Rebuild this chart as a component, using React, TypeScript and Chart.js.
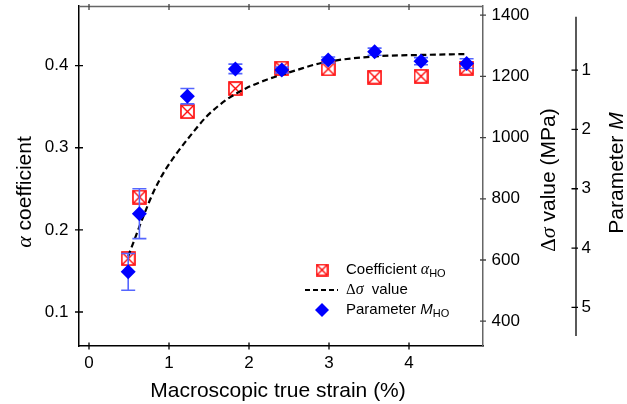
import React, { useEffect, useRef } from "react";
import { Chart, registerables } from "chart.js";

Chart.register(...registerables);

// ---- data ----
const strain = [0.49, 0.63, 1.23, 1.83, 2.41, 2.99, 3.57, 4.15, 4.72];
const alphaHO = [0.165, 0.240, 0.344, 0.372, 0.397, 0.396, 0.386, 0.387, 0.397];
const paramM = [4.40, 3.42, 1.44, 0.98, 1.0, 0.83, 0.69, 0.85, 0.89];
const paramMErr = [0.31, 0.42, 0.13, 0.08, 0.05, 0.05, 0.06, 0.06, 0.08];
const curveStrain = [0.49, 0.68, 0.80, 0.93, 1.10, 1.26, 1.47, 1.72, 1.97, 2.22, 2.60, 2.89, 3.55, 4.14, 4.72];
const curveDeltaSigma = [612, 743, 819, 884, 950, 1004, 1069, 1124, 1162, 1189, 1221, 1243, 1265, 1270, 1273];

const xTicks = [0, 1, 2, 3, 4];
const alphaTicks = [0.1, 0.2, 0.3, 0.4];
const sigmaTicks = [400, 600, 800, 1000, 1200, 1400];
const mTicks = [1, 2, 3, 4, 5];
const mAxisLineSpan = [0.1, 5.48];

const SANS = '"Liberation Sans", Arial, Helvetica, sans-serif';
const SERIF = '"Liberation Serif", "Times New Roman", serif';

type Seg = { t: string; font: string; dy?: number };

function drawRich(ctx: CanvasRenderingContext2D, segs: Seg[], x: number, y: number, align: "center" | "left", rot = 0) {
  ctx.save();
  ctx.translate(x, y);
  ctx.rotate(rot);
  ctx.textBaseline = "middle";
  ctx.textAlign = "left";
  ctx.fillStyle = "#000";
  let total = 0;
  for (const s of segs) {
    ctx.font = s.font;
    total += ctx.measureText(s.t).width;
  }
  let cx = align === "center" ? -total / 2 : 0;
  for (const s of segs) {
    ctx.font = s.font;
    ctx.fillText(s.t, cx, s.dy || 0);
    cx += ctx.measureText(s.t).width;
  }
  ctx.restore();
}

function makeCrossSquare(size: number) {
  const c = document.createElement("canvas");
  c.width = size;
  c.height = size;
  const g = c.getContext("2d")!;
  g.strokeStyle = "#ff0000";
  g.lineWidth = 1.6;
  g.strokeRect(1, 1, size - 2, size - 2);
  g.lineWidth = 1.4;
  g.beginPath();
  g.moveTo(2, 2);
  g.lineTo(size - 2, size - 2);
  g.moveTo(size - 2, 2);
  g.lineTo(2, size - 2);
  g.stroke();
  return c;
}

function drawTicks(ctx: CanvasRenderingContext2D, scale: any, values: number[], horizontal: boolean, pos: number, a: number, b: number, color: string) {
  ctx.save();
  ctx.strokeStyle = color;
  ctx.lineWidth = 1.3;
  ctx.beginPath();
  for (const v of values) {
    const p = scale.getPixelForValue(v);
    if (horizontal) {
      ctx.moveTo(p, pos + a);
      ctx.lineTo(p, pos + b);
    } else {
      ctx.moveTo(pos + a, p);
      ctx.lineTo(pos + b, p);
    }
  }
  ctx.stroke();
  ctx.restore();
}

const decorPlugin = {
  id: "decor",
  beforeDatasetDraw(chart: any, args: any) {
    if (args.index !== 0) return;
    const ctx: CanvasRenderingContext2D = chart.ctx;
    const xs = chart.scales.x;
    const ym = chart.scales.yM;
    ctx.save();
    ctx.strokeStyle = "#5566ff";
    ctx.lineWidth = 1.6;
    ctx.beginPath();
    strain.forEach((s, i) => {
      const px = xs.getPixelForValue(s);
      const t = ym.getPixelForValue(paramM[i] - paramMErr[i]);
      const b = ym.getPixelForValue(paramM[i] + paramMErr[i]);
      ctx.moveTo(px, t);
      ctx.lineTo(px, b);
      ctx.moveTo(px - 7, t);
      ctx.lineTo(px + 7, t);
      ctx.moveTo(px - 7, b);
      ctx.lineTo(px + 7, b);
    });
    ctx.stroke();
    ctx.restore();
  },
  afterDraw(chart: any) {
    const ctx: CanvasRenderingContext2D = chart.ctx;
    const { left, right, top, bottom } = chart.chartArea;
    const xs = chart.scales.x;
    const ya = chart.scales.y;
    const yr = chart.scales.yR;
    const ym = chart.scales.yM;

    // top border
    ctx.save();
    ctx.strokeStyle = "#666";
    ctx.lineWidth = 1.3;
    ctx.beginPath();
    ctx.moveTo(left, top + 0.5);
    ctx.lineTo(right, top + 0.5);
    ctx.stroke();
    ctx.restore();

    // M axis line
    ctx.save();
    ctx.strokeStyle = "#000";
    ctx.lineWidth = 1.3;
    ctx.beginPath();
    ctx.moveTo(ym.left, ym.getPixelForValue(mAxisLineSpan[0]));
    ctx.lineTo(ym.left, ym.getPixelForValue(mAxisLineSpan[1]));
    ctx.stroke();
    ctx.restore();

    drawTicks(ctx, xs, xTicks, true, bottom, -3.5, 3.5, "#000");
    drawTicks(ctx, xs, xTicks, true, top, -2, 4, "#444");
    drawTicks(ctx, ya, alphaTicks, false, left, -4, 4, "#000");
    drawTicks(ctx, yr, sigmaTicks, false, right, -3, 3, "#444");
    drawTicks(ctx, ym, mTicks, false, ym.left, -4.5, 2, "#000");

    // axis titles
    const T = 21;
    drawRich(ctx, [{ t: "Macroscopic true strain (%)", font: `${T}px ${SANS}` }], (left + right) / 2 - 3, 391, "center");
    drawRich(
      ctx,
      [
        { t: "α", font: `italic ${T + 1}px ${SERIF}` },
        { t: " coefficient", font: `${T}px ${SANS}` },
      ],
      25,
      192,
      "center",
      -Math.PI / 2
    );
    drawRich(
      ctx,
      [
        { t: "Δ", font: `${T}px ${SERIF}` },
        { t: "σ", font: `italic ${T + 1}px ${SERIF}` },
        { t: " value (MPa)", font: `${T}px ${SANS}` },
      ],
      549,
      180,
      "center",
      -Math.PI / 2
    );
    drawRich(
      ctx,
      [
        { t: "Parameter ", font: `${T}px ${SANS}` },
        { t: "M", font: `italic ${T}px ${SANS}` },
      ],
      617,
      173,
      "center",
      -Math.PI / 2
    );

    // legend
    const L = 15;
    const lx = 322;
    const tx = 346;
    const r1 = 270, r2 = 290, r3 = 310;
    const legSq = makeCrossSquare(13);
    ctx.drawImage(legSq, lx - 6.5, r1 - 6.5);
    drawRich(
      ctx,
      [
        { t: "Coefficient ", font: `${L}px ${SANS}` },
        { t: "α", font: `italic ${L + 1}px ${SERIF}` },
        { t: "HO", font: `${L - 4}px ${SANS}`, dy: 4 },
      ],
      tx,
      r1,
      "left"
    );
    ctx.save();
    ctx.strokeStyle = "#000";
    ctx.lineWidth = 2;
    ctx.setLineDash([5, 3]);
    ctx.beginPath();
    ctx.moveTo(305, r2);
    ctx.lineTo(338, r2);
    ctx.stroke();
    ctx.restore();
    drawRich(
      ctx,
      [
        { t: "Δ", font: `${L}px ${SERIF}` },
        { t: "σ", font: `italic ${L + 1}px ${SERIF}` },
        { t: "  value", font: `${L}px ${SANS}` },
      ],
      tx,
      r2,
      "left"
    );
    ctx.save();
    ctx.fillStyle = "#0000ff";
    ctx.beginPath();
    ctx.moveTo(lx, r3 - 7);
    ctx.lineTo(lx + 7, r3);
    ctx.lineTo(lx, r3 + 7);
    ctx.lineTo(lx - 7, r3);
    ctx.closePath();
    ctx.fill();
    ctx.restore();
    drawRich(
      ctx,
      [
        { t: "Parameter ", font: `${L}px ${SANS}` },
        { t: "M", font: `italic ${L}px ${SANS}` },
        { t: "HO", font: `${L - 4}px ${SANS}`, dy: 4 },
      ],
      tx,
      r3,
      "left"
    );
  },
};

export default function App() {
  const ref = useRef<HTMLCanvasElement | null>(null);

  useEffect(() => {
    if (!ref.current) return;
    const redMarker = makeCrossSquare(15);
    const tickFont = { family: SANS, size: 17 };
    const noPad = (s: any) => {
      s.paddingTop = 0;
      s.paddingBottom = 0;
      s.paddingLeft = 0;
      s.paddingRight = 0;
    };
    const chart = new Chart(ref.current, {
      type: "scatter",
      data: {
        datasets: [
          {
            label: "Parameter M_HO",
            data: strain.map((s, i) => ({ x: s, y: paramM[i] })),
            yAxisID: "yM",
            pointStyle: "rectRot",
            pointRadius: 7.5,
            backgroundColor: "#0000ff",
            borderColor: "#0000ff",
            borderWidth: 0,
            showLine: false,
          },
          {
            label: "Δσ value",
            data: curveStrain.map((s, i) => ({ x: s, y: curveDeltaSigma[i] })),
            yAxisID: "yR",
            showLine: true,
            borderColor: "#000",
            borderWidth: 2.2,
            borderDash: [6, 3.5],
            pointRadius: 0,
            cubicInterpolationMode: "monotone",
            fill: false,
          },
          {
            label: "Coefficient α_HO",
            data: strain.map((s, i) => ({ x: s, y: alphaHO[i] })),
            yAxisID: "y",
            pointStyle: redMarker as any,
            pointRadius: 8,
            showLine: false,
          },
        ],
      },
      options: {
        animation: false,
        responsive: true,
        maintainAspectRatio: false,
        layout: { autoPadding: false, padding: { top: 6, left: 0, right: 0, bottom: 0 } },
        plugins: { legend: { display: false }, tooltip: { enabled: false } },
        scales: {
          x: {
            type: "linear",
            position: "bottom",
            min: -0.125,
            max: 4.925,
            afterBuildTicks: (s: any) => {
              s.ticks = xTicks.map((v) => ({ value: v }));
            },
            afterFit: (s: any) => {
              s.height = 58;
              noPad(s);
            },
            grid: { display: false, drawTicks: false },
            border: { display: true, color: "#000", width: 1.5 },
            ticks: { font: tickFont, color: "#000", padding: 7, maxRotation: 0, callback: (v: any) => String(v) },
          },
          y: {
            type: "linear",
            position: "left",
            min: 0.0586,
            max: 0.4726,
            afterBuildTicks: (s: any) => {
              s.ticks = alphaTicks.map((v) => ({ value: v }));
            },
            afterFit: (s: any) => {
              s.width = 79;
              noPad(s);
            },
            grid: { display: false, drawTicks: false },
            border: { display: true, color: "#000", width: 1.5 },
            ticks: { font: tickFont, color: "#000", padding: 10.5, callback: (v: any) => Number(v).toFixed(1) },
          },
          yR: {
            type: "linear",
            position: "right",
            min: 319,
            max: 1430,
            afterBuildTicks: (s: any) => {
              s.ticks = sigmaTicks.map((v) => ({ value: v }));
            },
            afterFit: (s: any) => {
              s.width = 93;
              noPad(s);
            },
            grid: { display: false, drawTicks: false },
            border: { display: true, color: "#666", width: 1.5 },
            ticks: { font: tickFont, color: "#000", padding: 8.5, callback: (v: any) => String(v) },
          },
          yM: {
            type: "linear",
            position: "right",
            reverse: true,
            min: -0.08,
            max: 5.65,
            afterBuildTicks: (s: any) => {
              s.ticks = mTicks.map((v) => ({ value: v }));
            },
            afterFit: (s: any) => {
              s.width = 51;
              noPad(s);
            },
            grid: { display: false, drawTicks: false },
            border: { display: false },
            ticks: { font: tickFont, color: "#000", padding: 5.5, callback: (v: any) => String(v) },
          },
        },
      } as any,
      plugins: [decorPlugin as any],
    });
    return () => chart.destroy();
  }, []);

  return (
    <div style={{ position: "absolute", left: 0, top: 0, width: 627, height: 404 }}>
      <canvas ref={ref} />
    </div>
  );
}
